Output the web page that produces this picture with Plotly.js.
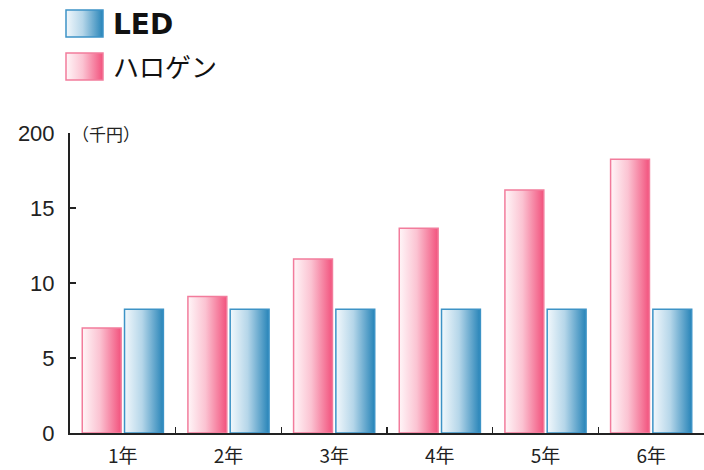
<!DOCTYPE html>
<html>
<head>
<meta charset="utf-8">
<script src="https://cdn.plot.ly/plotly-3.0.1.min.js"></script>
<style>html,body{margin:0;padding:0;background:#fff;}#chart{width:704px;height:470px;}</style>
</head>
<body>
<div id="chart"></div>
<script>
const categories = ['1年', '2年', '3年', '4年', '5年', '6年'];
const halogenValues = [7.0, 9.1, 11.6, 13.65, 16.2, 18.25];
const ledValues = [8.25, 8.25, 8.25, 8.25, 8.25, 8.25];
const seriesNames = ['ハロゲン', 'LED'];
const yTickVals = [0, 5, 10, 15, 20];
const yTickText = ['0', '5', '10', '15', '200'];
const unitLabel = '（千円）';

const PINK_LINE = '#f27c9c';
const BLUE_LINE = '#3d93c6';

const traces = [
  {type: 'bar', name: seriesNames[0], x: categories, y: halogenValues,
   marker: {color: '#f78fae', line: {color: PINK_LINE, width: 1.5}}, hoverinfo: 'none'},
  {type: 'bar', name: seriesNames[1], x: categories, y: ledValues,
   marker: {color: '#7fb6d6', line: {color: BLUE_LINE, width: 1.5}}, hoverinfo: 'none'}
];

function px2x(p){ return (p - 70) / 634; }
function px2y(p){ return (433 - p) / 300; }

const layout = {
  width: 704, height: 470,
  margin: {l: 70, r: 0, t: 133, b: 37},
  paper_bgcolor: '#ffffff', plot_bgcolor: '#ffffff',
  showlegend: false,
  barmode: 'group', bargap: 0.2, bargroupgap: 0.08,
  font: {family: 'Liberation Sans, Arial, sans-serif', color: '#222'},
  xaxis: {
    type: 'category', showline: true, linecolor: '#222', linewidth: 2,
    ticks: 'inside', tickson: 'boundaries', ticklen: 6, tickwidth: 1.5, tickcolor: '#222',
    showgrid: false, zeroline: false, fixedrange: true,
    tickfont: {family: 'Noto Sans CJK JP, sans-serif', size: 19, color: '#222'},
    ticklabelstandoff: 5
  },
  yaxis: {
    range: [0, 20], showline: true, linecolor: '#222', linewidth: 2,
    ticks: 'inside', ticklen: 6, tickwidth: 1.5, tickcolor: '#222',
    tickvals: yTickVals, ticktext: yTickText,
    showgrid: false, zeroline: false, fixedrange: true,
    tickfont: {family: 'Liberation Sans, Arial, sans-serif', size: 22, color: '#222'},
    ticklabelstandoff: 9
  },
  shapes: [
    {type: 'rect', xref: 'paper', yref: 'paper', x0: px2x(66), x1: px2x(103), y0: px2y(37), y1: px2y(10),
     fillcolor: '#7fb6d6', line: {color: BLUE_LINE, width: 1.5}},
    {type: 'rect', xref: 'paper', yref: 'paper', x0: px2x(66), x1: px2x(103), y0: px2y(80), y1: px2y(53),
     fillcolor: '#f78fae', line: {color: PINK_LINE, width: 1.5}}
  ],
  annotations: [
    {xref: 'paper', yref: 'paper', x: px2x(111), y: px2y(24), xanchor: 'left', yanchor: 'middle',
     text: '<b>' + seriesNames[1] + '</b>', showarrow: false,
     font: {family: 'DejaVu Sans, sans-serif', size: 28, color: '#111'}},
    {xref: 'paper', yref: 'paper', x: px2x(111), y: px2y(66), xanchor: 'left', yanchor: 'middle',
     text: seriesNames[0], showarrow: false,
     font: {family: 'Noto Sans CJK JP, sans-serif', size: 26, color: '#111'}},
    {xref: 'paper', yref: 'y', x: px2x(70), y: 20, xanchor: 'left', yanchor: 'middle',
     text: unitLabel, showarrow: false,
     font: {family: 'Noto Sans CJK JP, sans-serif', size: 17, color: '#222'}}
  ]
};

function addGradients(gd){
  const svg = gd.querySelector('svg.main-svg');
  const NS = 'http://www.w3.org/2000/svg';
  let defs = svg.querySelector('defs');
  if (!defs) { defs = document.createElementNS(NS, 'defs'); svg.insertBefore(defs, svg.firstChild); }
  function grad(id, stops){
    const g = document.createElementNS(NS, 'linearGradient');
    g.setAttribute('id', id);
    g.setAttribute('x1', '0'); g.setAttribute('y1', '0');
    g.setAttribute('x2', '1'); g.setAttribute('y2', '0');
    stops.forEach(s => {
      const st = document.createElementNS(NS, 'stop');
      st.setAttribute('offset', s[0]); st.setAttribute('stop-color', s[1]);
      g.appendChild(st);
    });
    defs.appendChild(g);
  }
  grad('gradPink', [['0', '#fff6f8'], ['0.45', '#fbc3d2'], ['1', '#f2527d']]);
  grad('gradBlue', [['0', '#f2f8fc'], ['0.45', '#b5d6e9'], ['1', '#2784b8']]);
  const barTraces = gd.querySelectorAll('g.trace.bars');
  const fills = ['url(#gradPink)', 'url(#gradBlue)'];
  barTraces.forEach((t, i) => {
    t.querySelectorAll('g.point path').forEach(p => { p.style.fill = fills[i]; p.style.fillOpacity = 1; });
  });
  const shapePaths = gd.querySelectorAll('.shapelayer path');
  const shapeFills = ['url(#gradBlue)', 'url(#gradPink)'];
  shapePaths.forEach((p, i) => { if (shapeFills[i]) { p.style.fill = shapeFills[i]; p.style.fillOpacity = 1; } });
}

Plotly.newPlot('chart', traces, layout, {staticPlot: true, displayModeBar: false})
  .then(gd => addGradients(gd));
</script>
</body>
</html>
